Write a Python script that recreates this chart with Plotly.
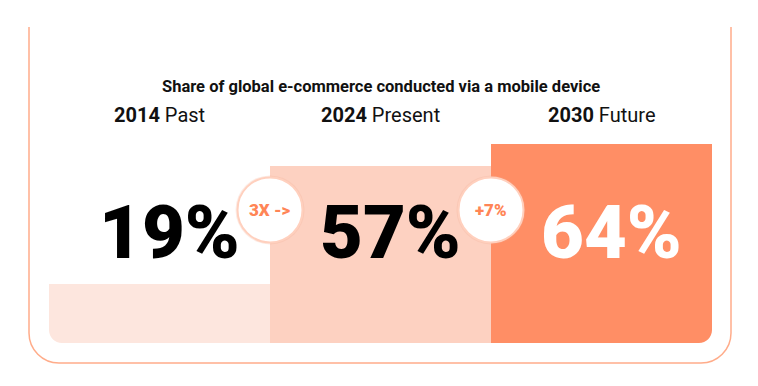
import plotly.graph_objects as go

# ---- data ----
periods = ["2014", "2024", "2030"]
period_names = ["Past", "Present", "Future"]
shares = [19, 57, 64]
value_labels = ["19%", "57%", "64%"]
badges = ["3X ->", "+7%"]
title_text = "Share of global e-commerce conducted via a mobile device"

bar_colors = ["#FDE6DE", "#FDD1C1", "#FF8E65"]
num_colors = ["#000000", "#000000", "#FFFFFF"]
accent = "#FF8556"
frame_color = "#FFAC8A"

OFF = 8  # browser default body margin
W, H = 742, 370
ML, MT = 49 - OFF, 343 - 311 - OFF
PW, PH = 663, 311
MR, MB = W - ML - PW, H - MT - PH


def px(page_x):
    return (page_x - OFF - ML) / PW


def py(page_y):
    return (MT + PH - (page_y - OFF)) / PH


xs = list(range(len(periods)))

fig = go.Figure()
fig.add_trace(go.Bar(
    x=xs, y=shares, width=1.0,
    marker=dict(color=bar_colors, line=dict(width=0)),
    hoverinfo="skip",
))

shapes = []

# outer open frame with rounded bottom corners (paper coords)
k = 0.4477
fx0, fx1 = px(29), px(731)
fy0, fy1 = py(363), py(27)
rx, ry = 30 / PW, 30 / PH
frame_path = (
    f"M {fx0},{fy1} L {fx0},{fy0+ry} "
    f"C {fx0},{fy0+ry*k} {fx0+rx*k},{fy0} {fx0+rx},{fy0} "
    f"L {fx1-rx},{fy0} "
    f"C {fx1-rx*k},{fy0} {fx1},{fy0+ry*k} {fx1},{fy0+ry} "
    f"L {fx1},{fy1}"
)
shapes.append(dict(type="path", xref="paper", yref="paper", path=frame_path,
                   line=dict(color=frame_color, width=1.5), fillcolor="rgba(0,0,0,0)",
                   layer="above"))

# rounded outer bottom corners of bars (white masks)
cr = 13
crx, cry = cr / PW, cr / PH
m1 = f"M 0,{cry} L 0,0 L {crx},0 C {crx*k},0 0,{cry*k} 0,{cry} Z"
m2 = f"M 1,{cry} L 1,0 L {1-crx},0 C {1-crx*k},0 1,{cry*k} 1,{cry} Z"
for p in (m1, m2):
    shapes.append(dict(type="path", xref="paper", yref="paper", path=p,
                       line=dict(width=0), fillcolor="white", layer="above"))

# badges between bars
badge_y = 42.8
for i, b in enumerate(badges):
    xa = xs[i] + 0.5
    shapes.append(dict(type="circle", xref="x", yref="y", xsizemode="pixel", ysizemode="pixel",
                       xanchor=xa, yanchor=badge_y, x0=-34.5, x1=34.5, y0=-34.5, y1=34.5,
                       fillcolor="rgba(240,170,140,0.22)", line=dict(width=0), layer="above"))
    shapes.append(dict(type="circle", xref="x", yref="y", xsizemode="pixel", ysizemode="pixel",
                       xanchor=xa, yanchor=badge_y, x0=-32.5, x1=32.5, y0=-32.5, y1=32.5,
                       fillcolor="white", line=dict(color="#FFD0BE", width=2), layer="above"))

annotations = []
for i, b in enumerate(badges):
    annotations.append(dict(x=xs[i] + 0.5, y=badge_y, xref="x", yref="y", text=b,
                            showarrow=False,
                            font=dict(family="Roboto", size=17, color=accent, weight=900),
                            xanchor="center", yanchor="middle"))

for i in xs:
    annotations.append(dict(x=i, y=35.5, xref="x", yref="y", text=value_labels[i],
                            showarrow=False, xshift=10,
                            font=dict(family="Roboto", size=74, color=num_colors[i], weight=900),
                            xanchor="center", yanchor="middle"))
    annotations.append(dict(x=i, y=73.3, xref="x", yref="y",
                            text=f"<b>{periods[i]}</b> {period_names[i]}",
                            showarrow=False, font=dict(family="Roboto", size=20, color="#111111"),
                            xanchor="center", yanchor="middle"))

annotations.append(dict(x=px(380.5), y=py(86), xref="paper", yref="paper",
                        text=f"<b>{title_text}</b>", showarrow=False,
                        font=dict(family="Roboto", size=16.5, color="#111111"),
                        xanchor="center", yanchor="middle"))

fig.update_layout(
    width=W, height=H,
    margin=dict(l=ML, r=MR, t=MT, b=MB, pad=0),
    paper_bgcolor="white", plot_bgcolor="white",
    bargap=0, showlegend=False,
    xaxis=dict(range=[-0.5, 2.5], visible=False, fixedrange=True),
    yaxis=dict(range=[0, 100], visible=False, fixedrange=True),
    shapes=shapes, annotations=annotations,
)

fig.write_html("out.html", config={"displayModeBar": False})
